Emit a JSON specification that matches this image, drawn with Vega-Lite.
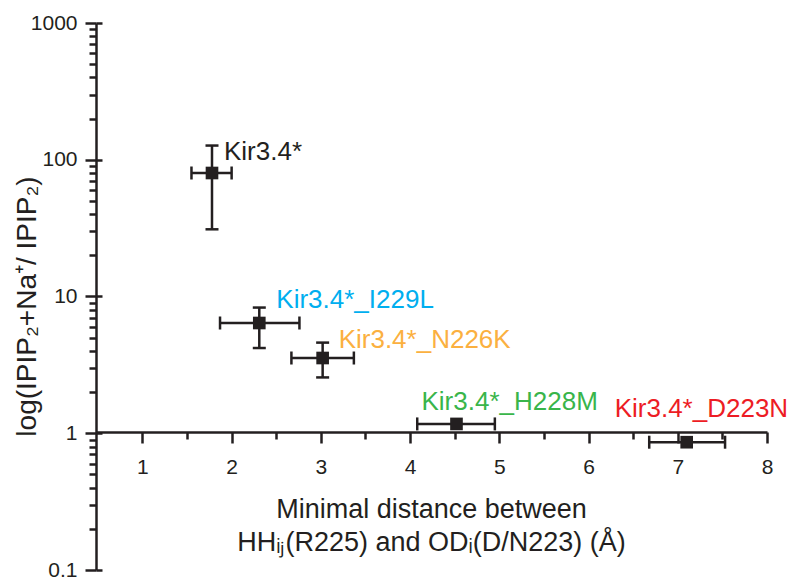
{
  "$schema": "https://vega.github.io/schema/vega-lite/v6.json",
  "autosize": "none",
  "width": 671,
  "height": 547,
  "padding": {"left": 96, "top": 23, "right": 33, "bottom": 17},
  "background": "white",
  "data": {"values": [
    {"name": "Kir3.4*", "x": 1.78, "xlo": 1.55, "xhi": 2.0, "y": 80, "ylo": 31, "yhi": 127},
    {"name": "Kir3.4*_I229L", "x": 2.31, "xlo": 1.87, "xhi": 2.76, "y": 6.4, "ylo": 4.2, "yhi": 8.3},
    {"name": "Kir3.4*_N226K", "x": 3.02, "xlo": 2.67, "xhi": 3.37, "y": 3.55, "ylo": 2.56, "yhi": 4.6},
    {"name": "Kir3.4*_H228M", "x": 4.52, "xlo": 4.08, "xhi": 4.95, "y": 1.17, "ylo": null, "yhi": null},
    {"name": "Kir3.4*_D223N", "x": 7.1, "xlo": 6.68, "xhi": 7.53, "y": 0.86, "ylo": null, "yhi": null}
  ]},
  "config": {
    "view": {"stroke": null},
    "font": "Liberation Sans",
    "axis": {
      "grid": false,
      "domainColor": "#231F20",
      "domainWidth": 2.5,
      "tickColor": "#231F20",
      "tickWidth": 2.5,
      "labelColor": "#231F20",
      "labelFont": "Liberation Sans",
      "labelFontSize": 21,
      "labelFlush": false,
      "labelOverlap": false,
      "titleFont": "Liberation Sans",
      "titleFontWeight": "normal",
      "titleColor": "#231F20"
    }
  },
  "layer": [
    {
      "mark": {"type": "rule", "color": "#231F20", "strokeWidth": 2.5, "opacity": 1},
      "encoding": {
        "x": {
          "field": "xlo", "type": "quantitative",
          "scale": {"domain": [0.48, 8], "nice": false, "zero": false},
          "axis": {
            "orient": "bottom", "offset": -138,
            "values": [1, 2, 3, 4, 5, 6, 7, 8],
            "format": "d",
            "tickSize": 11, "labelPadding": 13,
            "title": ["Minimal distance between", "HHᵢⱼ(R225) and ODᵢ(D/N223) (Å)"],
            "titleFontSize": 27, "titleLineHeight": 33,
            "titleX": 335, "titleY": 85,
            "titleAlign": "center", "titleBaseline": "alphabetic"
          }
        },
        "x2": {"field": "xhi"},
        "y": {
          "field": "y", "type": "quantitative",
          "scale": {"type": "log", "domain": [0.1, 1000], "nice": false},
          "axis": {
            "orient": "left",
            "values": [0.1, 1, 10, 100, 1000],
            "format": "~g",
            "tickSize": 11, "labelPadding": 8,
            "title": "log(IPIP₂+Na⁺/ IPIP₂)",
            "titleFontSize": 28,
            "titleX": -61, "titleY": 283, "titleAngle": 270,
            "titleAlign": "center", "titleBaseline": "alphabetic"
          }
        }
      }
    },
    {
      "transform": [{"filter": "datum.ylo != null"}],
      "mark": {"type": "rule", "color": "#231F20", "strokeWidth": 2.5, "opacity": 1},
      "encoding": {
        "x": {
          "field": "x", "type": "quantitative",
          "axis": {
            "orient": "bottom", "offset": -138,
            "values": [1.5, 2.5, 3.5, 4.5, 5.5, 6.5, 7.5],
            "tickSize": 7, "labels": false, "domain": false, "title": null
          }
        },
        "y": {
          "field": "ylo", "type": "quantitative",
          "axis": {
            "orient": "left",
            "values": [0.2, 0.3, 0.4, 0.5, 0.6, 0.7, 0.8, 0.9, 2, 3, 4, 5, 6, 7, 8, 9, 20, 30, 40, 50, 60, 70, 80, 90, 200, 300, 400, 500, 600, 700, 800, 900],
            "tickSize": 7, "labels": false, "domain": false, "title": null
          }
        },
        "y2": {"field": "yhi"}
      }
    },
    {
      "transform": [{"filter": "datum.ylo != null"}],
      "mark": {"type": "tick", "orient": "horizontal", "color": "#231F20", "size": 13, "thickness": 2.5, "opacity": 1},
      "encoding": {
        "x": {"field": "x", "type": "quantitative", "axis": null},
        "y": {
          "field": "ylo", "type": "quantitative",
          "axis": {
            "orient": "left",
            "values": [0.1, 1, 10, 100, 1000],
            "tickSize": -6, "labels": false, "domain": false, "title": null
          }
        }
      }
    },
    {
      "transform": [{"filter": "datum.yhi != null"}],
      "mark": {"type": "tick", "orient": "horizontal", "color": "#231F20", "size": 13, "thickness": 2.5, "opacity": 1},
      "encoding": {
        "x": {"field": "x", "type": "quantitative", "axis": null},
        "y": {"field": "yhi", "type": "quantitative", "axis": null}
      }
    },
    {
      "mark": {"type": "tick", "orient": "vertical", "color": "#231F20", "size": 13, "thickness": 2.5, "opacity": 1},
      "encoding": {
        "x": {"field": "xlo", "type": "quantitative", "axis": null},
        "y": {"field": "y", "type": "quantitative", "axis": null}
      }
    },
    {
      "mark": {"type": "tick", "orient": "vertical", "color": "#231F20", "size": 13, "thickness": 2.5, "opacity": 1},
      "encoding": {
        "x": {"field": "xhi", "type": "quantitative", "axis": null},
        "y": {"field": "y", "type": "quantitative", "axis": null}
      }
    },
    {
      "mark": {"type": "point", "shape": "square", "filled": true, "opacity": 1, "color": "#231F20", "size": 160},
      "encoding": {
        "x": {"field": "x", "type": "quantitative", "axis": null},
        "y": {"field": "y", "type": "quantitative", "axis": null}
      }
    },
    {
      "transform": [{"filter": "datum.name === 'Kir3.4*'"}],
      "mark": {"type": "text", "align": "left", "baseline": "alphabetic", "fontSize": 26, "color": "#231F20", "dx": 12, "dy": -13},
      "encoding": {
        "x": {"field": "x", "type": "quantitative", "axis": null},
        "y": {"field": "y", "type": "quantitative", "axis": null},
        "text": {"field": "name"}
      }
    },
    {
      "transform": [{"filter": "datum.name === 'Kir3.4*_I229L'"}],
      "mark": {"type": "text", "align": "left", "baseline": "alphabetic", "fontSize": 26, "color": "#00AEEF", "dx": 17, "dy": -15},
      "encoding": {
        "x": {"field": "x", "type": "quantitative", "axis": null},
        "y": {"field": "y", "type": "quantitative", "axis": null},
        "text": {"field": "name"}
      }
    },
    {
      "transform": [{"filter": "datum.name === 'Kir3.4*_N226K'"}],
      "mark": {"type": "text", "align": "left", "baseline": "alphabetic", "fontSize": 26, "color": "#FBB040", "dx": 16, "dy": -10},
      "encoding": {
        "x": {"field": "x", "type": "quantitative", "axis": null},
        "y": {"field": "y", "type": "quantitative", "axis": null},
        "text": {"field": "name"}
      }
    },
    {
      "transform": [{"filter": "datum.name === 'Kir3.4*_H228M'"}],
      "mark": {"type": "text", "align": "left", "baseline": "alphabetic", "fontSize": 26, "color": "#39B54A", "dx": -35, "dy": -14},
      "encoding": {
        "x": {"field": "x", "type": "quantitative", "axis": null},
        "y": {"field": "y", "type": "quantitative", "axis": null},
        "text": {"field": "name"}
      }
    },
    {
      "transform": [{"filter": "datum.name === 'Kir3.4*_D223N'"}],
      "mark": {"type": "text", "align": "left", "baseline": "alphabetic", "fontSize": 26, "color": "#ED1C24", "dx": -72, "dy": -25},
      "encoding": {
        "x": {"field": "x", "type": "quantitative", "axis": null},
        "y": {"field": "y", "type": "quantitative", "axis": null},
        "text": {"field": "name"}
      }
    }
  ],
  "resolve": {"axis": {"x": "independent", "y": "independent"}}
}
